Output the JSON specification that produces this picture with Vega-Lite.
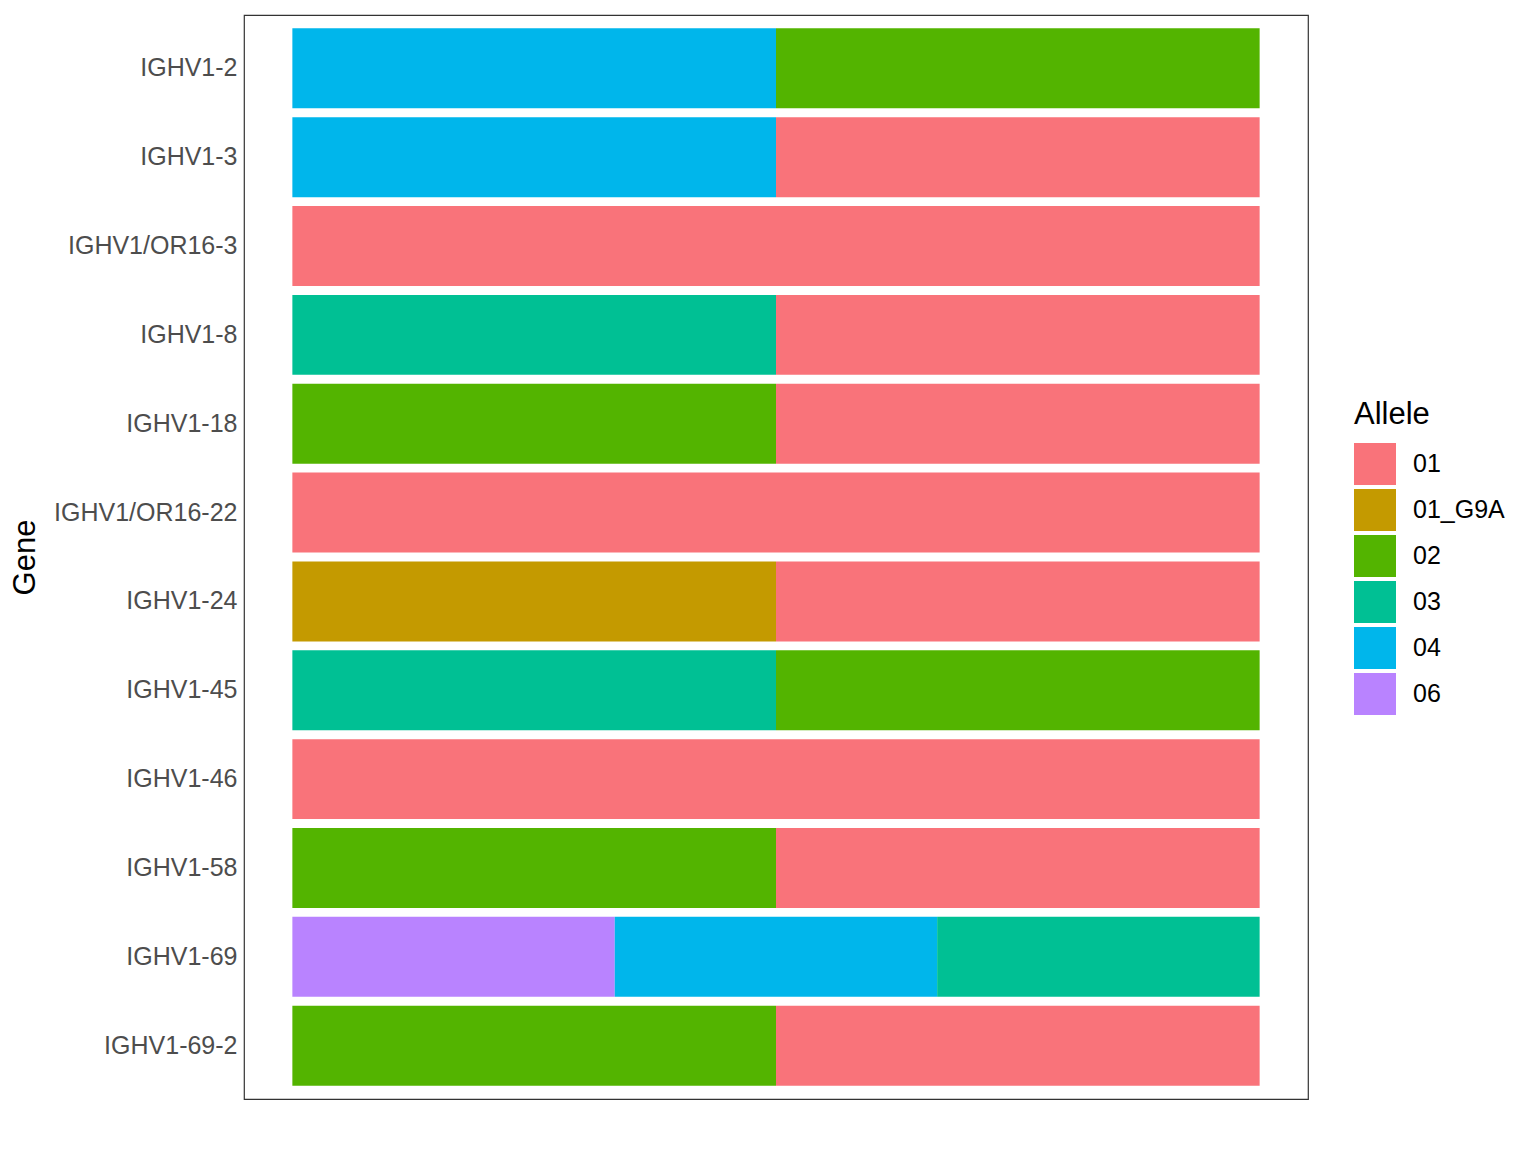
{
  "$schema": "https://vega.github.io/schema/vega-lite/v6.json",
  "autosize": "none",
  "padding": {"left": 244, "top": 15, "right": 228, "bottom": 53},
  "width": 1064,
  "height": 1084,
  "config": {
    "font": "Liberation Sans",
    "view": {"stroke": "#333333", "strokeWidth": 1.2},
    "axis": {"grid": false}
  },
  "data": {
    "values": [
      {"gene": "IGHV1-2", "allele": "04", "fraction": 0.5},
      {"gene": "IGHV1-2", "allele": "02", "fraction": 0.5},
      {"gene": "IGHV1-3", "allele": "04", "fraction": 0.5},
      {"gene": "IGHV1-3", "allele": "01", "fraction": 0.5},
      {"gene": "IGHV1/OR16-3", "allele": "01", "fraction": 1},
      {"gene": "IGHV1-8", "allele": "03", "fraction": 0.5},
      {"gene": "IGHV1-8", "allele": "01", "fraction": 0.5},
      {"gene": "IGHV1-18", "allele": "02", "fraction": 0.5},
      {"gene": "IGHV1-18", "allele": "01", "fraction": 0.5},
      {"gene": "IGHV1/OR16-22", "allele": "01", "fraction": 1},
      {"gene": "IGHV1-24", "allele": "01_G9A", "fraction": 0.5},
      {"gene": "IGHV1-24", "allele": "01", "fraction": 0.5},
      {"gene": "IGHV1-45", "allele": "03", "fraction": 0.5},
      {"gene": "IGHV1-45", "allele": "02", "fraction": 0.5},
      {"gene": "IGHV1-46", "allele": "01", "fraction": 1},
      {"gene": "IGHV1-58", "allele": "02", "fraction": 0.5},
      {"gene": "IGHV1-58", "allele": "01", "fraction": 0.5},
      {"gene": "IGHV1-69", "allele": "06", "fraction": 0.3333},
      {"gene": "IGHV1-69", "allele": "04", "fraction": 0.3333},
      {"gene": "IGHV1-69", "allele": "03", "fraction": 0.3334},
      {"gene": "IGHV1-69-2", "allele": "02", "fraction": 0.5},
      {"gene": "IGHV1-69-2", "allele": "01", "fraction": 0.5}
    ]
  },
  "mark": {"type": "bar"},
  "encoding": {
    "y": {
      "field": "gene",
      "type": "nominal",
      "sort": ["IGHV1-2", "IGHV1-3", "IGHV1/OR16-3", "IGHV1-8", "IGHV1-18", "IGHV1/OR16-22", "IGHV1-24", "IGHV1-45", "IGHV1-46", "IGHV1-58", "IGHV1-69", "IGHV1-69-2"],
      "scale": {"paddingInner": 0.1, "paddingOuter": 0.15},
      "axis": {
        "title": "Gene",
        "titleFontSize": 31,
        "titleFontWeight": "normal",
        "titleColor": "#000000",
        "titlePadding": 12,
        "labelFontSize": 25,
        "labelColor": "#4D4D4D",
        "labelPadding": 7,
        "labelLimit": 400,
        "ticks": false,
        "domain": false
      }
    },
    "x": {
      "field": "fraction",
      "type": "quantitative",
      "stack": "zero",
      "scale": {"domain": [-0.05, 1.05], "nice": false, "zero": false},
      "axis": null
    },
    "color": {
      "field": "allele",
      "type": "nominal",
      "scale": {
        "domain": ["01", "01_G9A", "02", "03", "04", "06"],
        "range": ["#F9737A", "#C49A00", "#53B400", "#00C094", "#00B6EB", "#B983FF"]
      },
      "legend": {
        "title": "Allele",
        "orient": "none",
        "legendX": 1110,
        "legendY": 385,
        "titleFontSize": 31,
        "titleFontWeight": "normal",
        "titleColor": "#000000",
        "titlePadding": 12,
        "labelFontSize": 25,
        "labelColor": "#000000",
        "labelOffset": 17,
        "labelLimit": 300,
        "symbolType": "square",
        "symbolSize": 1764,
        "symbolStrokeWidth": 0,
        "symbolOpacity": 1,
        "rowPadding": 4
      }
    },
    "order": {"field": "allele", "sort": "descending"}
  }
}
